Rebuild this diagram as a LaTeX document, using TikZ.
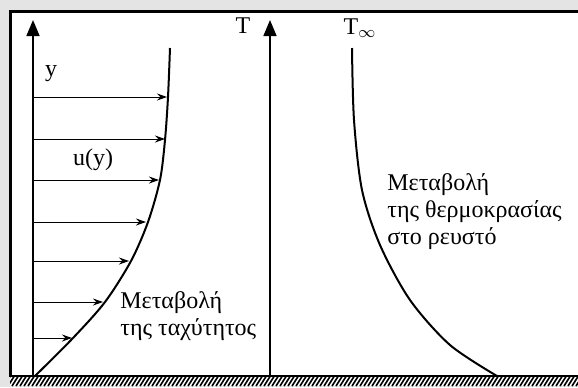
\documentclass[tikz,border=0pt]{standalone}
\usepackage{fontspec}
\setmainfont{Liberation Serif}
\usepackage{tikz}
\usetikzlibrary{arrows.meta}
\definecolor{bggray}{RGB}{228,228,228}

\begin{document}
\begin{tikzpicture}[x=0.5pt, y=-0.5pt, font=\fontsize{12}{13.5}\selectfont, lbl/.style={inner sep=0pt, align=left}, axis/.style={-{Triangle[length=8pt,width=6.5pt]}, line width=0.8pt}, prof/.style={line width=1pt}, vel/.style={-{Stealth[length=5pt,width=3.5pt]}, line width=0.5pt}]
\useasboundingbox (0,0) rectangle (578,387);
\fill[bggray] (0,0) rectangle (578,387);
\fill[white] (10,11) rectangle (578,376);
\draw[line width=1.5pt] (10,377) |- (578,11);
% wall
\begin{scope}
\clip (10,376) rectangle (578,386);
\fill[white] (10,376) rectangle (578,386);
\foreach \i in {0,...,145} \draw[line width=0.8pt] (4*\i,386) -- ++(7,-11);
\end{scope}
\draw[line width=1pt] (10,376) -- (578,376);
% axes
\coordinate (O1) at (33,376); \coordinate (Y1) at (33,20);
\coordinate (O2) at (270,376); \coordinate (Y2) at (270,20);
\draw[axis] (O1) -- (Y1);
\draw[axis] (O2) -- (Y2);
\node[lbl] (ylab) at (51,74) {y};
\node[lbl] (Tlab) at (243,26) {T};
\node[lbl] (Tinf) at (360,28) {T$_\infty$};
% velocity profile
\draw[prof] plot[smooth] coordinates {(35,376) (73,338) (105,302) (131,261) (148,222) (160,180) (165,140) (168,97) (170,48)};
\foreach \y/\x [count=\i] in {97/167, 139/165, 180/159, 222/146, 261/129, 302/103, 338/72}
{
  \coordinate (a\i) at (33,\y);
  \coordinate (u\i) at (\x,\y);
  \draw[vel] (a\i) -- (u\i);
}
\node[lbl] (ulab) at (93,160) {u(y)};
\node[lbl, anchor=west] (vtext) at (120,316) {Μεταβολή\\της ταχύτητος};
% temperature profile
\draw[prof] plot[smooth] coordinates {(352,48) (354,120) (362,190) (380,245) (410,300) (450,345) (497,376)};
\node[lbl, anchor=west] (ttext) at (387,212) {Μεταβολή\\της θερμοκρασίας\\στο ρευστό};
\end{tikzpicture}
\end{document}
